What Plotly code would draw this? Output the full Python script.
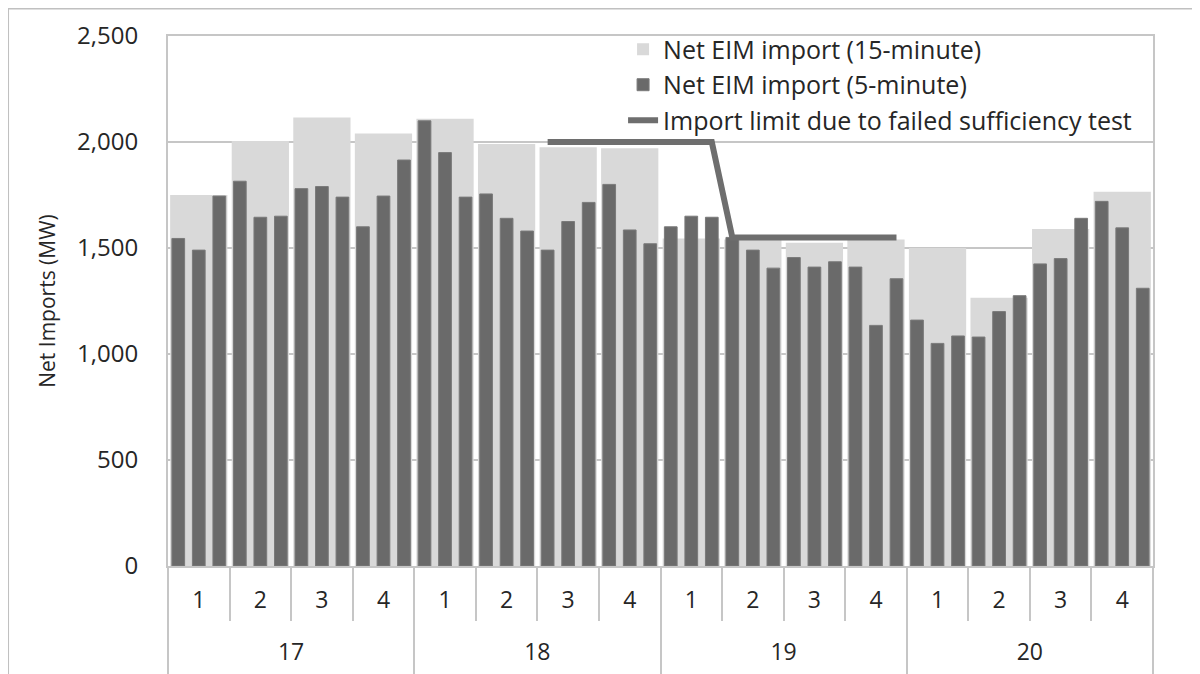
import plotly.graph_objects as go

# hour / quarter labels
hours = ["17", "18", "19", "20"]
quarters = ["1", "2", "3", "4"]

# Net EIM import, 15-minute market (one value per quarter)
net_15min = [1750, 2005, 2115, 2040,
             2110, 1990, 1975, 1970,
             1545, 1540, 1525, 1540,
             1500, 1265, 1590, 1765]

# Net EIM import, 5-minute market (three intervals per quarter)
net_5min = [1545, 1490, 1745, 1815, 1645, 1650, 1780, 1790, 1740, 1600, 1745, 1915,
            2100, 1950, 1740, 1755, 1640, 1580, 1490, 1625, 1715, 1800, 1585, 1520,
            1600, 1650, 1645, 1550, 1490, 1405, 1455, 1410, 1435, 1410, 1135, 1355,
            1160, 1050, 1085, 1080, 1200, 1275, 1425, 1450, 1640, 1720, 1595, 1310]

# Import limit due to failed sufficiency test (per 5-minute interval)
import_limit = [None] * 18 + [2000] * 9 + [1550] * 9 + [None] * 12

# build category coordinates (outer level padded so it sits on its own row)
x_hour = ["\u00a0<br>" + h + "<br>\u00a0" for h in hours for q in quarters]
x_quarter = [q for h in hours for q in quarters]
x_5min = [f"{h}-{q}-{i}" for h in hours for q in quarters for i in range(1, 4)]

LIGHT = "#d9d9d9"
DARK = "#6a6a6a"
GRID = "#c6c6c6"
TXT = "#262626"
FONT = "Open Sans"

fig = go.Figure()

fig.add_trace(go.Bar(
    x=[x_hour, x_quarter], y=net_15min,
    name="Net EIM import (15-minute)",
    marker=dict(color=LIGHT, line=dict(width=0)),
    width=0.93,
    xaxis="x", yaxis="y",
))

fig.add_trace(go.Bar(
    x=x_5min, y=net_5min,
    name="Net EIM import (5-minute)",
    marker=dict(color=DARK, line=dict(color="#7a7a7a", width=1)),
    width=0.62,
    xaxis="x2", yaxis="y",
))

fig.add_trace(go.Scatter(
    x=x_5min, y=import_limit,
    name="Import limit due to failed sufficiency test",
    mode="lines",
    line=dict(color="#6e6e6e", width=6),
    connectgaps=False,
    xaxis="x2", yaxis="y",
))

# page has an 8px body margin, so margins are shifted by that amount
fig.update_layout(
    width=1200, height=674,
    margin=dict(l=160, r=55, t=28, b=116, autoexpand=False),
    paper_bgcolor="white",
    plot_bgcolor="white",
    barmode="overlay",
    font=dict(family=FONT, color=TXT),
    showlegend=True,
    legend=dict(
        x=0.462, xanchor="left", y=1.018, yanchor="top",
        bgcolor="rgba(0,0,0,0)",
        font=dict(size=25, family=FONT, color=TXT),
        tracegroupgap=0,
    ),
    xaxis=dict(
        type="multicategory",
        range=[-0.5, 15.5],
        showgrid=False,
        showline=True, linecolor=GRID, linewidth=2, mirror=True,
        ticks="outside", tickson="boundaries", ticklen=53,
        tickcolor=GRID, tickwidth=2,
        ticklabelstandoff=12,
        showdividers=True, dividercolor=GRID, dividerwidth=2,
        tickfont=dict(size=23, family=FONT, color=TXT),
    ),
    xaxis2=dict(
        type="category",
        overlaying="x",
        range=[-0.5, 47.5],
        visible=False,
        categoryorder="array", categoryarray=x_5min,
    ),
    yaxis=dict(
        range=[0, 2500],
        dtick=500,
        tickformat=",",
        showgrid=True, gridcolor=GRID, gridwidth=2,
        showline=True, linecolor=GRID, linewidth=2, mirror=True,
        zeroline=False,
        ticks="",
        ticklabelstandoff=23,
        tickfont=dict(size=24, family=FONT, color=TXT),
        title=dict(text="Net Imports (MW)", font=dict(size=21, family=FONT, color=TXT),
                   standoff=16),
    ),
    shapes=[dict(
        type="rect", xref="paper", yref="paper",
        x0=-0.1624, x1=1.0447, y0=-0.4, y1=1.052,
        line=dict(color="#c0c0c0", width=2),
        layer="below",
    )],
)

fig.write_html("out.html")
